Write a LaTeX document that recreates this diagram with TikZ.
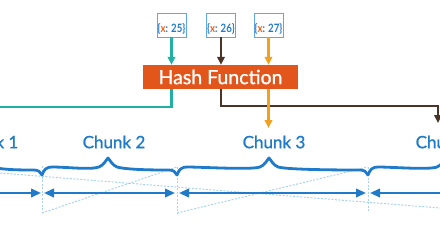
\documentclass[tikz,border=0pt]{standalone}
\usepackage{fontspec}
\setmainfont{Lato}
\newfontfamily\medfont[FakeBold=1.2]{Lato}
\newfontfamily\keyfont[FakeStretch=0.84]{Lato}
\usetikzlibrary{arrows.meta}
\definecolor{hashorange}{HTML}{E2561C}
\definecolor{tealc}{HTML}{1FB0A6}
\definecolor{brownc}{HTML}{4B3328}
\definecolor{orangec}{HTML}{F2A11F}
\definecolor{bluec}{HTML}{1F7BC9}
\definecolor{boxblue}{HTML}{5DA9E0}
\definecolor{dashblue}{HTML}{A9D2F0}
\definecolor{xorange}{HTML}{E8601C}
\newcommand\chunkbrace[3]{%
  \draw[bracestyle] (#1,175) .. controls (#1+2,169) and (#1+5,167) .. (#1+10,167)
   .. controls (#1+25,167) and (#2-18,170) .. (#2-9,167)
   .. controls (#2-4,165) and (#2-2,160) .. (#2,158)
   .. controls (#2+2,160) and (#2+4,165) .. (#2+9,167)
   .. controls (#2+20,170) and (#3-20,170) .. (#3-8,170)
   .. controls (#3-4,170) and (#3-1,172) .. (#3,175);}
\newcommand\keytext[1]{{\color{bluec}\{}{\color{xorange}x}{\color{bluec}: #1\}}}
\begin{document}
\begin{tikzpicture}[x=1pt,y=-1pt,
  keybox/.style={draw=boxblue, line width=0.9pt, minimum width=29pt, minimum height=24pt,
    inner sep=0pt, text height=14pt, text depth=0pt,
    font=\fontsize{11.5}{14}\keyfont\bfseries},
  hashbox/.style={fill=hashorange, text=white, minimum width=155pt, minimum height=24pt,
    inner sep=0pt, font=\fontsize{19.5}{22}\medfont},
  chunklbl/.style={text=bluec, inner sep=0pt, font=\fontsize{17}{19}\medfont},
  feed/.style={line width=2.1pt, -{Triangle[length=8pt,width=7.5pt]}},
  bracestyle/.style={draw=bluec, line width=2.8pt, line cap=round, line join=round},
  guide/.style={draw=dashblue, line width=1pt, dash pattern=on 2pt off 1.5pt},
  span/.style={draw=bluec, line width=2.1pt, >={Triangle[length=10pt,width=8.5pt]}}]
\useasboundingbox (0,0) rectangle (440,226);
\clip (0,0) rectangle (440,226);

% key boxes
\node[keybox] (k1) at (171.5,25) {\keytext{25}};
\node[keybox] (k2) at (221,25) {\keytext{26}};
\node[keybox] (k3) at (268.5,25) {\keytext{27}};

% hash function
\node[hashbox] (hash) at (220.5,77) {Hash Function};

% chunk labels
\node[chunklbl] (c1) at (-13,142) {Chunk 1};
\node[chunklbl] (c2) at (114,142) {Chunk 2};
\node[chunklbl] (c3) at (274,142) {Chunk 3};
\node[chunklbl] (c4) at (447,142) {Chunk 4};

% inputs to hash
\draw[feed, tealc] (k1.south) -- (k1.south |- hash.north);
\draw[feed, brownc] (k2.south) -- (k2.south |- hash.north);
\draw[feed, orangec] (k3.south) -- (k3.south |- hash.north);

% outputs of hash
\coordinate (tealend) at (0,107);
\coordinate (browncorner) at (438,106);
\coordinate (brownend) at (438,123);
\coordinate (orangeend) at (268.5,128);
\draw[tealc, line width=2.1pt] (k1.south |- hash.south) |- (tealend);
\draw[feed, brownc] (k2.south |- hash.south) |- (browncorner) -- (brownend);
\draw[feed, orangec] (k3.south |- hash.south) -- (orangeend);

% dashed guides
\coordinate (top1) at (42,166);   \coordinate (bot1) at (42,213);
\coordinate (top2) at (177,167);  \coordinate (bot2) at (177,213);
\coordinate (top3) at (368,167);  \coordinate (bot3) at (368,212);
\coordinate (lineA) at (0,173);   \coordinate (lineB) at (440,208);
\draw[guide] (top1) -- (bot1);
\draw[guide] (top2) -- (bot2);
\draw[guide] (top3) -- (bot3);
\draw[guide] (bot1) -- (top2);
\draw[guide] (bot2) -- (top3);
\draw[guide] (lineA) -- (lineB);

% braces
\chunkbrace{-75}{-17}{42}
\chunkbrace{42}{108}{177}
\chunkbrace{177}{269}{368}
\chunkbrace{368}{446}{520}

% span arrows
\coordinate (s0) at (-5,193);
\coordinate (s1a) at (41,193);  \coordinate (s1b) at (44,193);
\coordinate (s2a) at (175,193); \coordinate (s2b) at (179,193);
\coordinate (s3a) at (366,193); \coordinate (s3b) at (370,193);
\coordinate (s4) at (445,193);
\draw[span, ->] (s0) -- (s1a);
\draw[span, <->] (s1b) -- (s2a);
\draw[span, <->] (s2b) -- (s3a);
\draw[span, <-] (s3b) -- (s4);
\end{tikzpicture}
\end{document}
